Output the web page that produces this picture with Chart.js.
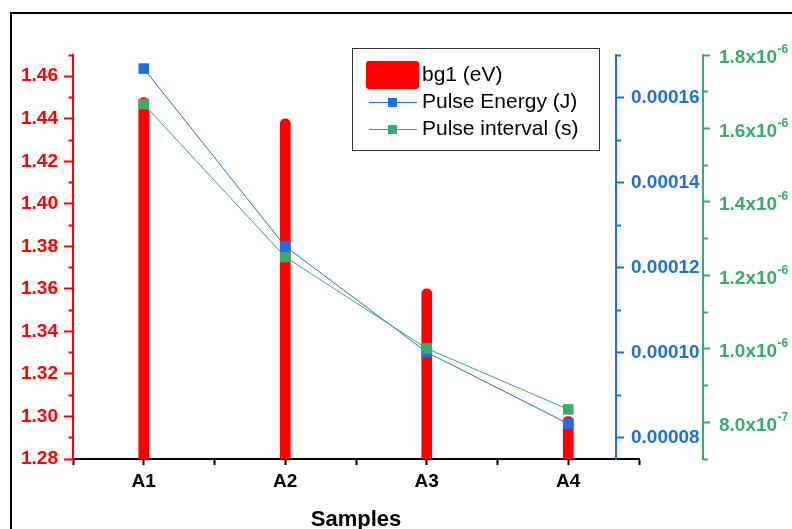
<!DOCTYPE html>
<html>
<head>
<meta charset="utf-8">
<script src="https://cdn.jsdelivr.net/npm/chart.js@4.4.0/dist/chart.umd.min.js"></script>
<style>
  html, body { margin: 0; padding: 0; background: #fff; }
  #wrap { width: 792px; height: 529px; }
</style>
</head>
<body>
<div id="wrap"><canvas id="chart" width="792" height="529"></canvas></div>
<script>
// values
const samples = ['A1', 'A2', 'A3', 'A4'];
const bandGap = [1.45, 1.44, 1.36, 1.30];                      // bg1 (eV)
const pulseEnergy = [0.0001668, 0.000125, 0.0001001, 0.0000833]; // J
const pulseInterval = [1.666e-6, 1.25e-6, 1.001e-6, 8.35e-7];   // s

// major tick values of each axis
const gapTicks = [1.28, 1.30, 1.32, 1.34, 1.36, 1.38, 1.40, 1.42, 1.44, 1.46];
const energyTicks = [0.00008, 0.00010, 0.00012, 0.00014, 0.00016];
const intervalTicks = [8e-7, 1.0e-6, 1.2e-6, 1.4e-6, 1.6e-6, 1.8e-6];
const intervalMantissa = ['8.0', '1.0', '1.2', '1.4', '1.6', '1.8'];
const intervalExponent = ['-7', '-6', '-6', '-6', '-6', '-6'];

const RED = '#ff0000';
const BLUE = '#1f6fdf';
const GREEN = '#3aab6b';
const FONT = '"Liberation Sans", Arial, Helvetica, sans-serif';

Chart.defaults.font.family = FONT;

// majors plus the half-way minor ticks, kept inside [lo, hi]
function withMinors(major, lo, hi) {
    const half = (major[1] - major[0]) / 2;
    const out = [];
    for (let i = -4; i <= major.length * 2 + 4; i++) {
        const v = major[0] + i * half;
        if (v < lo - half * 0.01 || v > hi + half * 0.01) continue;
        out.push({ value: +v.toPrecision(8), minor: i % 2 !== 0 });
    }
    return out;
}

function sideAxis(opts) {
    return {
        type: 'linear',
        position: opts.position,
        weight: opts.weight,
        min: opts.min,
        max: opts.max,
        afterBuildTicks: s => { s.ticks = withMinors(opts.major, opts.min, opts.max); },
        afterFit: s => { s.width = opts.width; },
        border: { color: opts.color, width: 2 },
        grid: {
            drawOnChartArea: false,
            tickLength: opts.tickLength,
            tickColor: opts.color,
            tickWidth: 2,
            tickBorderDash: c => (c.tick && c.tick.minor) ? opts.minorDash : []
        },
        ticks: {
            autoSkip: false,
            padding: opts.padding,
            color: opts.color,
            font: { size: 19, weight: 'bold', lineHeight: 1 },
            callback: opts.label
        }
    };
}

// picture frame + extra pieces drawn on top
const decorations = {
    id: 'decorations',
    beforeDraw(chart) {
        const ctx = chart.ctx;
        ctx.save();
        ctx.fillStyle = '#fff';
        ctx.fillRect(0, 0, chart.width, chart.height);
        ctx.strokeStyle = '#000';
        ctx.lineWidth = 2;
        ctx.strokeRect(11, 13, 900, 700);
        ctx.restore();
    },
    afterLayout(chart) {
        // blue axis sits a little inside the end of the x axis;
        // keep its right edge so the labels are not clipped
        chart.scales.yE.left -= 23;
    },
    afterDraw(chart) {
        const ctx = chart.ctx;
        ctx.save();

        // green tick labels with superscript exponent
        const s = chart.scales.yI;
        ctx.fillStyle = GREEN;
        ctx.textAlign = 'left';
        ctx.textBaseline = 'middle';
        intervalTicks.forEach((v, i) => {
            const y = s.getPixelForValue(v);
            const base = intervalMantissa[i] + 'x10';
            ctx.font = 'bold 19px ' + FONT;
            ctx.fillText(base, s.left + 16, y + 3);
            const w = ctx.measureText(base).width;
            ctx.font = 'bold 12px ' + FONT;
            ctx.fillText(intervalExponent[i], s.left + 16 + w + 0.5, y - 5);
        });

        // legend
        ctx.strokeStyle = '#333';
        ctx.lineWidth = 1;
        ctx.strokeRect(352.5, 48.5, 247, 102);
        const rows = [75, 102, 129];
        chart.data.datasets.forEach((d, i) => {
            const y = rows[i];
            if (d.type === 'line') {
                ctx.strokeStyle = d.borderColor;
                ctx.lineWidth = 1;
                ctx.beginPath();
                ctx.moveTo(369, y + 0.5);
                ctx.lineTo(417, y + 0.5);
                ctx.stroke();
                ctx.fillStyle = d.pointBackgroundColor;
                ctx.fillRect(388, y - 4, 9, 9);
            } else {
                ctx.fillStyle = d.backgroundColor;
                ctx.beginPath();
                ctx.roundRect(366, y - 14, 53, 28, 3);
                ctx.fill();
            }
            ctx.fillStyle = '#000';
            ctx.font = '21px ' + FONT;
            ctx.textAlign = 'left';
            ctx.textBaseline = 'middle';
            ctx.fillText(d.label, 422, y);
        });
        ctx.restore();
    }
};

const ctx = document.getElementById('chart').getContext('2d');
new Chart(ctx, {
    type: 'bar',
    data: {
        datasets: [{
            type: 'bar',
            label: 'bg1 (eV)',
            data: samples.map((s, i) => ({ x: i + 1, y: bandGap[i] })),
            backgroundColor: RED,
            barThickness: 10,
            borderRadius: 5,
            borderSkipped: 'start',
            yAxisID: 'y',
            order: 3
        }, {
            type: 'line',
            label: 'Pulse Energy (J)',
            data: samples.map((s, i) => ({ x: i + 1, y: pulseEnergy[i] })),
            borderColor: BLUE,
            borderWidth: 1,
            pointStyle: 'rect',
            pointRadius: 7.5,
            pointBorderWidth: 0,
            pointBackgroundColor: BLUE,
            tension: 0,
            yAxisID: 'yE',
            order: 2
        }, {
            type: 'line',
            label: 'Pulse interval (s)',
            data: samples.map((s, i) => ({ x: i + 1, y: pulseInterval[i] })),
            borderColor: GREEN,
            borderWidth: 1,
            pointStyle: 'rect',
            pointRadius: 7.5,
            pointBorderWidth: 0,
            pointBackgroundColor: GREEN,
            tension: 0,
            yAxisID: 'yI',
            order: 1
        }]
    },
    options: {
        responsive: false,
        animation: false,
        layout: { padding: { top: 55, left: 0, right: 0, bottom: 0 } },
        plugins: {
            legend: { display: false },
            tooltip: { enabled: false }
        },
        scales: {
            x: {
                type: 'linear',
                position: 'bottom',
                min: 0.5,
                max: 4.5,
                offset: false,
                afterBuildTicks: s => {
                    s.ticks = [0.5, 1, 1.5, 2, 2.5, 3, 3.5, 4, 4.5].map(v => ({ value: v }));
                },
                afterFit: s => { s.height = 70; },
                border: { color: '#000', width: 2 },
                grid: {
                    offset: false,
                    drawOnChartArea: false,
                    tickLength: 6,
                    tickColor: '#000',
                    tickWidth: 2
                },
                ticks: {
                    autoSkip: false,
                    maxRotation: 0,
                    padding: 7,
                    color: '#000',
                    font: { size: 19, weight: 'bold', lineHeight: 1 },
                    callback: v => Number.isInteger(v) ? samples[v - 1] : ''
                },
                title: {
                    display: true,
                    text: 'Samples',
                    color: '#000',
                    font: { size: 22, weight: 'bold', lineHeight: 1 },
                    padding: { top: 0, bottom: -2 }
                }
            },
            y: sideAxis({
                position: 'left', weight: 0, min: 1.28, max: 1.47, major: gapTicks,
                width: 73, color: RED, tickLength: 9, padding: 6, minorDash: [0, 4.5, 30],
                label: (v, i, t) => t[i].minor ? '' : v.toFixed(2)
            }),
            yE: sideAxis({
                position: 'right', weight: 1, min: 0.000075, max: 0.00017, major: energyTicks,
                width: 64, color: BLUE, tickLength: 8, padding: 7, minorDash: [4, 30],
                label: (v, i, t) => t[i].minor ? '' : v.toFixed(5)
            }),
            yI: sideAxis({
                position: 'right', weight: 2, min: 7e-7, max: 1.8e-6, major: intervalTicks,
                width: 89, color: GREEN, tickLength: 7, padding: 9, minorDash: [4, 30],
                label: () => ''
            })
        }
    },
    plugins: [decorations]
});
</script>
</body>
</html>
